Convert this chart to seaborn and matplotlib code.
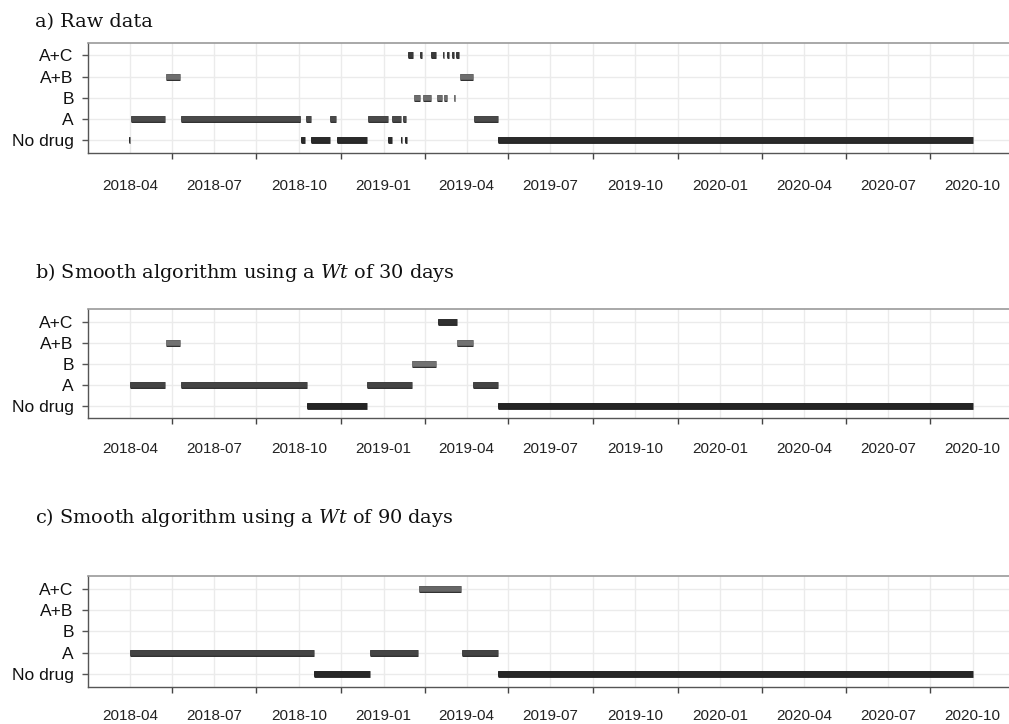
import pandas as pd
import numpy as np
import matplotlib
matplotlib.use("Agg")
import matplotlib.pyplot as plt
import matplotlib.dates as mdates
import matplotlib.patheffects as pe
from matplotlib.ticker import FixedLocator
import seaborn as sns

# row order, bottom to top
categories = ["No drug", "A", "B", "A+B", "A+C"]

# a) raw data
raw_drug = ["No drug", "A", "A+B", "A", "No drug", "A", "No drug", "A", "No drug", "A",
            "No drug", "A", "No drug", "A", "No drug", "A", "A+C", "B", "A+C", "B",
            "A+C", "B", "A+C", "B", "A+C", "A+C", "B", "A+C", "A+B", "A", "No drug"]
raw_start = ["2018-03-31", "2018-04-02", "2018-05-10", "2018-05-26", "2018-10-03", "2018-10-09",
             "2018-10-14", "2018-11-04", "2018-11-11", "2018-12-15", "2019-01-06", "2019-01-10",
             "2019-01-20", "2019-01-22", "2019-01-24", "2018-10-01", "2019-01-28", "2019-02-03",
             "2019-02-10", "2019-02-13", "2019-02-21", "2019-02-28", "2019-03-06", "2019-03-08",
             "2019-03-11", "2019-03-16", "2019-03-18", "2019-03-21", "2019-03-25", "2019-04-09",
             "2019-05-05"]
raw_end = ["2018-04-01", "2018-05-09", "2018-05-25", "2018-10-02", "2018-10-08", "2018-10-14",
           "2018-11-04", "2018-11-10", "2018-12-14", "2019-01-06", "2019-01-10", "2019-01-20",
           "2019-01-21", "2019-01-25", "2019-01-26", "2018-10-02", "2019-02-02", "2019-02-09",
           "2019-02-12", "2019-02-21", "2019-02-27", "2019-03-05", "2019-03-08", "2019-03-11",
           "2019-03-13", "2019-03-18", "2019-03-20", "2019-03-24", "2019-04-08", "2019-05-05",
           "2020-10-01"]

# b) smoothed, Wt = 30 days
w30_drug = ["A", "A+B", "A", "No drug", "A", "B", "A+C", "A+B", "A", "No drug"]
w30_start = ["2018-04-01", "2018-05-10", "2018-05-26", "2018-10-10", "2018-12-14", "2019-02-01",
             "2019-03-01", "2019-03-22", "2019-04-08", "2019-05-05"]
w30_end = ["2018-05-09", "2018-05-25", "2018-10-10", "2018-12-14", "2019-02-01", "2019-02-27",
           "2019-03-22", "2019-04-08", "2019-05-05", "2020-10-01"]

# c) smoothed, Wt = 90 days
w90_drug = ["A", "No drug", "A", "A+C", "A", "No drug"]
w90_start = ["2018-04-01", "2018-10-18", "2018-12-17", "2019-02-08", "2019-03-27", "2019-05-05"]
w90_end = ["2018-10-18", "2018-12-17", "2019-02-07", "2019-03-26", "2019-05-05", "2020-10-01"]

titles = ["a) Raw data",
          "b) Smooth algorithm using a $\\mathit{Wt}$ of 30 days",
          "c) Smooth algorithm using a $\\mathit{Wt}$ of 90 days"]

palettes = [
    {"No drug": "#2a2a2a", "A": "#4a4a4a", "B": "#6e6e6e", "A+B": "#6e6e6e", "A+C": "#3a3a3a"},
    {"No drug": "#242424", "A": "#444444", "B": "#727272", "A+B": "#727272", "A+C": "#303030"},
    {"No drug": "#262626", "A": "#444444", "B": "#727272", "A+B": "#727272", "A+C": "#666666"},
]


def make_long(drug, start, end):
    rows = []
    for i, (d, s, e) in enumerate(zip(drug, start, end)):
        rows.append({"seg": i, "drug": d, "row": categories.index(d), "date": pd.Timestamp(s)})
        rows.append({"seg": i, "drug": d, "row": categories.index(d), "date": pd.Timestamp(e)})
    return pd.DataFrame(rows)


panels = [make_long(raw_drug, raw_start, raw_end),
          make_long(w30_drug, w30_start, w30_end),
          make_long(w90_drug, w90_start, w90_end)]

sns.set_theme(style="white")
plt.rcParams["font.family"] = ["Liberation Sans", "DejaVu Sans"]
plt.rcParams["mathtext.fontset"] = "dejavuserif"

fig = plt.figure(figsize=(10.09, 7.24), dpi=100)

# axes boxes in pixels: top, bottom
boxes = [(42.7, 152.7), (309, 418.3), (576, 686.7)]
title_y = [27, 278, 523]
label_pad = [19, 17, 16]
W, H = 1009, 724
left_px, right_px = 87.7, 1015

major_dates = pd.date_range("2018-04-01", "2021-01-01", freq="QS")
major_num = mdates.date2num(major_dates)
minor_num = (major_num[:-1] + major_num[1:]) / 2

for k, df in enumerate(panels):
    top, bot = boxes[k]
    ax = fig.add_axes([left_px / W, 1 - bot / H, (right_px - left_px) / W, (bot - top) / H])
    sns.lineplot(data=df, x="date", y="row", hue="drug", units="seg", estimator=None,
                 palette=palettes[k], linewidth=4.1, legend=False, sort=False, ax=ax,
                 solid_capstyle="butt",
                 path_effects=[pe.Stroke(linewidth=4.9, foreground="#1c1c1c"), pe.Normal()])

    ax.set_xlim(pd.Timestamp("2018-02-14"), pd.Timestamp("2020-11-16"))
    ax.set_ylim(-0.6, 4.6)
    ax.set_yticks(range(len(categories)))
    ax.set_yticklabels(categories)
    ax.xaxis.set_major_locator(mdates.MonthLocator(bymonth=[1, 4, 7, 10]))
    ax.xaxis.set_major_formatter(mdates.DateFormatter("%Y-%m"))
    ax.xaxis.set_minor_locator(FixedLocator(minor_num))
    ax.set_xlabel("")
    ax.set_ylabel("")

    ax.grid(which="major", axis="both", color="#ebebeb", linewidth=1.0)
    ax.grid(which="minor", axis="x", color="#ebebeb", linewidth=1.0)
    ax.set_axisbelow(True)

    ax.tick_params(axis="x", which="major", length=0, pad=label_pad[k], labelsize=11,
                   labelcolor="#222222")
    ax.tick_params(axis="x", which="minor", length=4, width=1, color="#444444", bottom=True)
    ax.tick_params(axis="y", which="major", length=4, width=1, color="#555555", pad=6,
                   labelsize=12.5, labelcolor="#111111", left=True)

    for side in ["left", "bottom"]:
        ax.spines[side].set_color("#555555")
        ax.spines[side].set_linewidth(1)
    ax.spines["top"].set_color("#9a9a9a")
    ax.spines["top"].set_linewidth(1.2)
    ax.spines["right"].set_visible(False)

    fig.text(35 / W, 1 - title_y[k] / H, titles[k], fontsize=13.9, family="DejaVu Serif",
             va="baseline", ha="left", color="#111111")

fig.savefig("out.png", dpi=100)
